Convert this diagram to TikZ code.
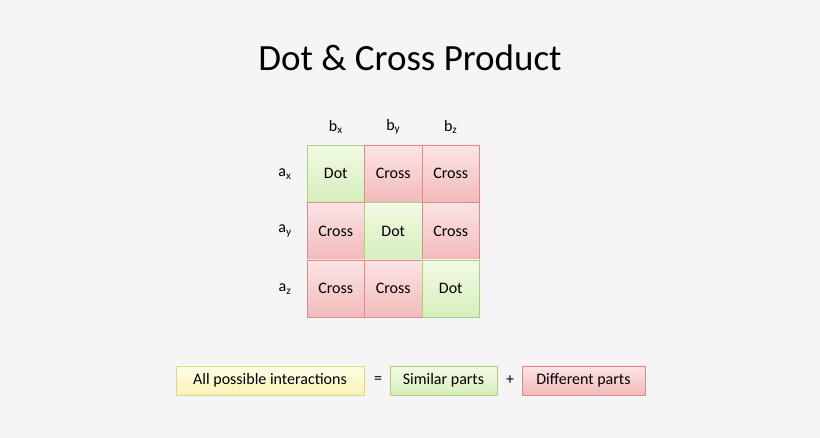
\documentclass[tikz,border=0pt]{standalone}
\usepackage{fontspec}
\setmainfont{Carlito}
\definecolor{bg}{RGB}{245,245,245}
\definecolor{gline}{RGB}{170,208,130}
\definecolor{gtop}{RGB}{242,250,228}
\definecolor{gbot}{RGB}{214,238,188}
\definecolor{rline}{RGB}{218,140,140}
\definecolor{rtop}{RGB}{252,228,228}
\definecolor{rbot}{RGB}{242,186,186}
\definecolor{yline}{RGB}{222,214,140}
\definecolor{ytop}{RGB}{254,254,232}
\definecolor{ybot}{RGB}{250,242,180}
\tikzset{every picture/.style={line width=0.75pt}}
\tikzset{
  cell/.style={draw, minimum width=57.5pt, minimum height=57.5pt, inner sep=0pt, font=\fontsize{16}{18}\selectfont},
  green/.style={draw=gline, top color=gtop, bottom color=gbot},
  red/.style={draw=rline, top color=rtop, bottom color=rbot},
  yellow/.style={draw=yline, top color=ytop, bottom color=ybot},
  lbl/.style={inner sep=0pt, font=\fontsize{16}{18}\selectfont},
  part/.style={draw, minimum height=29pt, inner xsep=8pt, font=\fontsize{16}{18}\selectfont},
}
\begin{document}
\begin{tikzpicture}[x=1pt,y=1pt,yscale=-1]
\fill[bg] (0,0) rectangle (820,438);
\useasboundingbox (0,0) rectangle (820,438);

% Title
\node (title) at (410,58) {\fontsize{37}{42}\selectfont Dot \& Cross Product};

% Column and row labels
\node[lbl] (bx) at (335.75,127) {b$_\mathrm{x}$};
\node[lbl] (by) at (393.25,127) {b$_\mathrm{y}$};
\node[lbl] (bz) at (450.75,127) {b$_\mathrm{z}$};
\node[lbl] (ax) at (285,174) {a$_\mathrm{x}$};
\node[lbl] (ay) at (285,231) {a$_\mathrm{y}$};
\node[lbl] (az) at (285,289) {a$_\mathrm{z}$};

% Grid
\foreach \r in {1,2,3}
  \foreach \c in {1,2,3}{
    \ifnum\r=\c
      \node[cell,green] (c\r\c) at (278.25+57.5*\c, 116.25+57.5*\r) {Dot};
    \else
      \node[cell,red] (c\r\c) at (278.25+57.5*\c, 116.25+57.5*\r) {Cross};
    \fi
  }

% Equation
\node[part,yellow,minimum width=188pt] (all) at (270,380.5) {All possible interactions};
\node[lbl] (eq) at (378,380.5) {=};
\node[part,green,minimum width=107pt] (sim) at (443.5,380.5) {Similar parts};
\node[lbl] (plus) at (510,380.5) {+};
\node[part,red,minimum width=123pt] (diff) at (583.5,380.5) {Different parts};
\end{tikzpicture}
\end{document}
